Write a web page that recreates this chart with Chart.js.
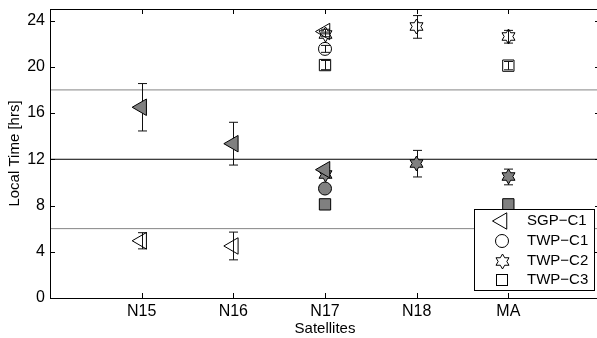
<!DOCTYPE html>
<html>
<head>
<meta charset="utf-8">
<script src="https://cdn.jsdelivr.net/npm/chart.js@4.4.1/dist/chart.umd.min.js"></script>
<style>
html,body{margin:0;padding:0;overflow:hidden;background:#fff;}
#chartLocalTime{display:block;}
</style>
</head>
<body>
<canvas id="chartLocalTime" width="600" height="338"></canvas>
<script>
const satellites=["N15","N16","N17","N18","MA"];
const yTicks=[0,4,8,12,16,20,24];
const refLines=[6,12,18];
const refColors=["#858585","#000000","#858585"];

// filled = daytime crossing, open = night crossing; null = no data
const sgpC1Day=[16.5,13.35,11.1,null,null];
const sgpC1DayErr=[2.05,1.85,0.2,null,null];
const sgpC1Night=[4.95,4.5,23.05,null,null];
const sgpC1NightErr=[0.7,1.2,0.2,null,null];

const twpC1Day=[null,null,9.47,null,null];
const twpC1DayErr=[null,null,0.2,null,null];
const twpC1Night=[null,null,21.55,null,null];
const twpC1NightErr=[null,null,0.3,null,null];

const twpC2Day=[null,null,10.65,11.62,10.47];
const twpC2DayErr=[null,null,0.2,1.15,0.68];
const twpC2Night=[null,null,22.8,23.45,22.6];
const twpC2NightErr=[null,null,0.2,0.98,0.55];

const twpC3Day=[null,null,8.1,null,8.1];
const twpC3DayErr=[null,null,0.2,null,0.2];
const twpC3Night=[null,null,20.15,null,20.1];
const twpC3NightErr=[null,null,0.4,null,0.36];

const legendLabels=["SGP\u2212C1","TWP\u2212C1","TWP\u2212C2","TWP\u2212C3"];

const FILL="#808080";
const FONT="'Liberation Sans', Arial, Helvetica, sans-serif";

function makeStar(fill){
const c=document.createElement("canvas");
c.width=17;c.height=17;
const g=c.getContext("2d");
g.beginPath();
for(let i=0;i<12;i++){
const r=i%2===0?7.5:4.33;
const a=-Math.PI/2+i*Math.PI/6;
const px=8.5+r*Math.cos(a),py=8.5+r*Math.sin(a);
if(i) g.lineTo(px,py); else g.moveTo(px,py);
}
g.closePath();
if(fill){g.fillStyle=fill;g.fill();}
g.strokeStyle="#000";g.lineWidth=1;g.stroke();
return c;
}

const starFilled=makeStar(FILL);
const starOpen=makeStar(null);

function pts(vals,errs){
return vals.map((v,i)=>({x:i+1,y:v,e:errs[i]})).filter(p=>p.y!==null);
}

function marker(vals,errs,style,filled,extra){
return Object.assign({
data:pts(vals,errs),
pointStyle:style,
backgroundColor:filled?FILL:"rgba(0,0,0,0)",
borderColor:"#000",
borderWidth:1,
showLine:false,
order:0
},extra);
}

const refSets=refLines.map((v,i)=>({
ref:true,
data:[{x:0,y:v},{x:6,y:v}],
showLine:true,
borderColor:refColors[i],
borderWidth:1,
pointRadius:0,
order:10
}));

const tri={rotation:-90,pointRadius:9.5};
const circ={pointRadius:6.5};
const sq={pointRadius:8};
const st={pointRadius:8};

const datasets=[
...refSets,
marker(sgpC1Day,sgpC1DayErr,"triangle",true,tri),
marker(sgpC1Night,sgpC1NightErr,"triangle",false,tri),
marker(twpC2Day,twpC2DayErr,starFilled,true,st),
marker(twpC2Night,twpC2NightErr,starOpen,false,st),
marker(twpC1Day,twpC1DayErr,"circle",true,circ),
marker(twpC1Night,twpC1NightErr,"circle",false,circ),
marker(twpC3Day,twpC3DayErr,"rect",true,sq),
marker(twpC3Night,twpC3NightErr,"rect",false,sq)
];

function drawErrorBars(chart){
const {ctx,scales:{x,y}}=chart;
ctx.save();
ctx.strokeStyle="#111";
ctx.lineWidth=1;
chart.data.datasets.forEach(ds=>{
if(ds.ref) return;
ds.data.forEach(p=>{
if(p.e==null) return;
const px=Math.round(x.getPixelForValue(p.x))+0.5;
const top=y.getPixelForValue(p.y+p.e);
const bot=y.getPixelForValue(p.y-p.e);
ctx.beginPath();
ctx.moveTo(px,top);ctx.lineTo(px,bot);
ctx.moveTo(px-4.5,top);ctx.lineTo(px+4.5,top);
ctx.moveTo(px-4.5,bot);ctx.lineTo(px+4.5,bot);
ctx.stroke();
});
});
ctx.restore();
}

function drawFrame(chart){
const {ctx,chartArea:a,scales:{x,y}}=chart;
ctx.save();
ctx.strokeStyle="#000";
ctx.lineWidth=1;
ctx.strokeRect(a.left+0.5,a.top+0.5,a.right-a.left,a.bottom-a.top);
ctx.beginPath();
yTicks.forEach(v=>{
const py=Math.round(y.getPixelForValue(v))+0.5;
ctx.moveTo(a.left,py);ctx.lineTo(a.left+5,py);
ctx.moveTo(a.right,py);ctx.lineTo(a.right-5,py);
});
satellites.forEach((_,i)=>{
const px=Math.round(x.getPixelForValue(i+1))+0.5;
ctx.moveTo(px,a.bottom);ctx.lineTo(px,a.bottom-5);
ctx.moveTo(px,a.top);ctx.lineTo(px,a.top+5);
});
ctx.stroke();
ctx.restore();
}

function drawLegend(chart){
const {ctx,chartArea:a}=chart;
const w=120,h=81;
const bx=Math.round(a.right-126),by=Math.round(a.bottom-89);
ctx.save();
ctx.fillStyle="#fff";
ctx.fillRect(bx,by,w,h);
ctx.strokeStyle="#000";
ctx.lineWidth=1;
ctx.strokeRect(bx+0.5,by+0.5,w,h);
const mx=bx+28;
const rows=[by+12,by+32,by+52,by+71];
let cy=rows[0];
ctx.beginPath();
ctx.moveTo(mx-9.5,cy);
ctx.lineTo(mx+4.75,cy-8.2);
ctx.lineTo(mx+4.75,cy+8.2);
ctx.closePath();ctx.stroke();
cy=rows[1];
ctx.beginPath();ctx.arc(mx,cy,6.5,0,Math.PI*2);ctx.stroke();
cy=rows[2];
ctx.drawImage(starOpen,mx-8,cy-8);
cy=rows[3];
ctx.strokeRect(mx-5.5,cy-5.5,11,11);
ctx.fillStyle="#000";
ctx.font="15px "+FONT;
ctx.textAlign="left";
ctx.textBaseline="middle";
legendLabels.forEach((t,i)=>ctx.fillText(t,bx+53,rows[i]));
ctx.restore();
}

const markerPlugin={
id:"markerPlugin",
beforeDraw(chart){chart.$errDone=false;},
beforeDatasetsDraw(chart){chart.ctx.imageSmoothingEnabled=false;},
afterDatasetsDraw(chart){chart.ctx.imageSmoothingEnabled=true;},
beforeDatasetDraw(chart,args){
const ds=chart.data.datasets[args.index];
if(ds.ref||chart.$errDone) return;
chart.$errDone=true;
drawErrorBars(chart);
},
afterDraw(chart){
drawFrame(chart);
drawLegend(chart);
}
};

function noPad(s){
s.paddingTop=0;s.paddingBottom=0;s.paddingLeft=0;s.paddingRight=0;
}

Chart.defaults.font.family=FONT;
Chart.defaults.color="#000";

new Chart(document.getElementById("chartLocalTime"),{
type:"scatter",
data:{datasets},
plugins:[markerPlugin],
options:{
responsive:false,
animation:false,
layout:{autoPadding:false,padding:{top:9,right:0,left:0,bottom:0}},
plugins:{legend:{display:false},tooltip:{enabled:false}},
scales:{
x:{
type:"linear",
min:0,max:6,
afterBuildTicks:s=>{s.ticks=satellites.map((_,i)=>({value:i+1}));},
afterFit:s=>{s.height=40;noPad(s);},
ticks:{
callback:v=>satellites[v-1],
font:{size:16},
padding:4,
maxRotation:0,
autoSkip:false
},
grid:{display:false,drawTicks:false},
border:{display:false},
title:{display:true,text:"Satellites",font:{size:15},padding:{top:0,bottom:0}}
},
y:{
min:0,max:25,
afterBuildTicks:s=>{s.ticks=yTicks.map(v=>({value:v}));},
afterFit:s=>{s.width=50;noPad(s);},
ticks:{font:{size:16},padding:5},
grid:{display:false,drawTicks:false},
border:{display:false},
title:{display:true,text:"Local Time [hrs]",font:{size:15},padding:{top:6,bottom:0}}
}
}
}
});
</script>
</body>
</html>
